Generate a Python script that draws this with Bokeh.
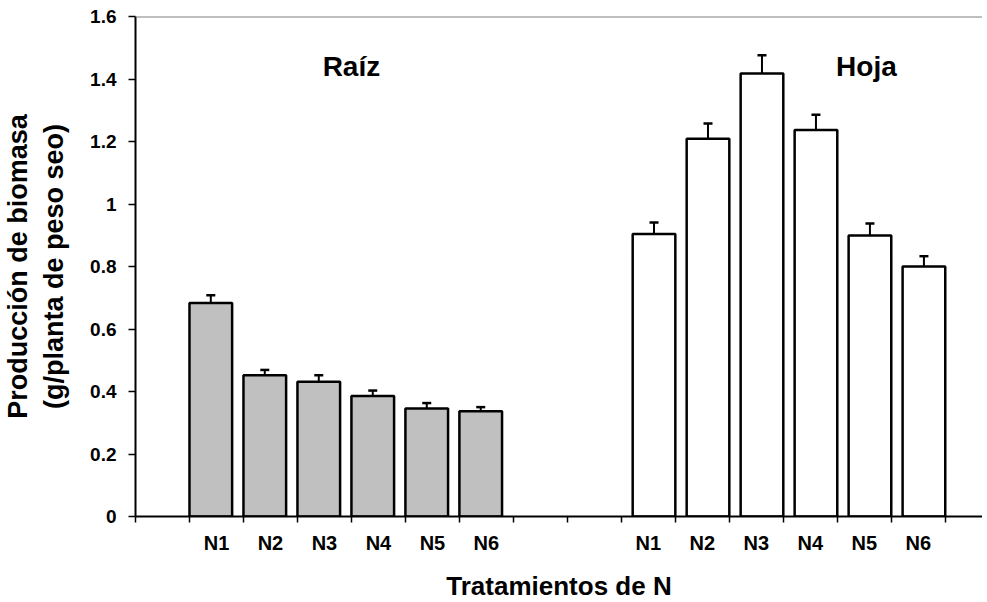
from bokeh.plotting import figure
from bokeh.models import (Range1d, FixedTicker, NumeralTickFormatter, ColumnDataSource,
                          Whisker, TeeHead, Span, Label)
from bokeh.embed import file_html
from bokeh.resources import INLINE

# ---- data ----
categories = ["N1", "N2", "N3", "N4", "N5", "N6"]
raiz = [0.683, 0.452, 0.431, 0.386, 0.346, 0.337]
raiz_err = [0.025, 0.017, 0.021, 0.017, 0.017, 0.013]
hoja = [0.904, 1.209, 1.418, 1.237, 0.899, 0.800]
hoja_err = [0.037, 0.049, 0.058, 0.049, 0.039, 0.033]
y_ticks = [0, 0.2, 0.4, 0.6, 0.8, 1.0, 1.2, 1.4, 1.6]
group_titles = ["Raíz", "Hoja"]
x_title = "Tratamientos de N"
y_title = "Producción de biomasa\n(g/planta de peso seo)"

FONT = "Liberation Sans"
raiz_start = 1   # first category slot of the Raíz group
hoja_start = 9   # first category slot of the Hoja group
n_slots = 15
bw = 0.79

p = figure(frame_width=847, frame_height=500, output_backend="svg", toolbar_location=None,
           x_range=Range1d(0, 15.69), y_range=Range1d(0, 1.6),
           min_border_left=132, min_border_right=0, min_border_top=16,
           min_border_bottom=0)
p.outline_line_color = None
p.xgrid.grid_line_color = None
p.ygrid.grid_line_color = None
p.background_fill_color = "white"
p.border_fill_color = "white"

# Raíz bars (left-aligned inside slot)
rx = [raiz_start + i + bw / 2 for i in range(len(categories))]
src_r = ColumnDataSource(dict(x=rx, top=raiz, up=[v + e for v, e in zip(raiz, raiz_err)]))
p.vbar(x="x", top="top", bottom=0, width=bw, source=src_r,
       fill_color="#C0C0C0", line_color="black", line_width=2.5)
p.add_layout(Whisker(base="x", lower="top", upper="up", source=src_r, dimension="height",
                     line_color="black", line_width=2,
                     upper_head=TeeHead(size=9, line_color="black", line_width=2.5),
                     lower_head=None))

# Hoja bars (right-aligned inside slot)
hx = [hoja_start + i + 1 - bw / 2 for i in range(len(categories))]
src_h = ColumnDataSource(dict(x=hx, top=hoja, up=[v + e for v, e in zip(hoja, hoja_err)]))
p.vbar(x="x", top="top", bottom=0, width=bw, source=src_h,
       fill_color="white", line_color="black", line_width=2.5)
p.add_layout(Whisker(base="x", lower="top", upper="up", source=src_h, dimension="height",
                     line_color="black", line_width=2,
                     upper_head=TeeHead(size=9, line_color="black", line_width=2.5),
                     lower_head=None))

# top border of plot area
p.add_layout(Span(location=1.6, dimension="width", line_color="#808080", line_width=2))

# group titles
p.add_layout(Label(x=4.0, y=1.44, text=group_titles[0], text_align="center",
                   text_baseline="alphabetic", text_font=FONT, text_font_style="bold",
                   text_font_size="28px", text_color="black"))
p.add_layout(Label(x=13.54, y=1.44, text=group_titles[1], text_align="center",
                   text_baseline="alphabetic", text_font=FONT, text_font_style="bold",
                   text_font_size="28px", text_color="black"))

# x axis
centers = [raiz_start + i + 0.5 for i in range(6)] + [hoja_start + i + 0.5 for i in range(6)]
labels = categories + categories
p.xaxis.ticker = FixedTicker(ticks=centers, minor_ticks=list(range(0, n_slots + 1)))
p.xaxis.major_label_overrides = {c: l for c, l in zip(centers, labels)}
p.xaxis.major_tick_in = 0
p.xaxis.major_tick_out = 0
p.xaxis.minor_tick_in = 0
p.xaxis.minor_tick_out = 6
p.xaxis.minor_tick_line_color = "black"
p.xaxis.minor_tick_line_width = 1.5
p.xaxis.axis_line_color = "black"
p.xaxis.axis_line_width = 2
p.xaxis.major_label_text_font = FONT
p.xaxis.major_label_text_font_style = "bold"
p.xaxis.major_label_text_font_size = "20px"
p.xaxis.major_label_text_color = "black"
p.xaxis.major_label_standoff = 9
p.xaxis.axis_label = x_title
p.xaxis.axis_label_text_font = FONT
p.xaxis.axis_label_text_font_style = "bold"
p.xaxis.axis_label_text_font_size = "26px"
p.xaxis.axis_label_text_color = "black"
p.xaxis.axis_label_standoff = 14

# y axis
p.yaxis.ticker = FixedTicker(ticks=y_ticks)
p.yaxis.formatter = NumeralTickFormatter(format="0.[0]")
p.yaxis.major_tick_in = 0
p.yaxis.major_tick_out = 7
p.yaxis.major_tick_line_color = "black"
p.yaxis.major_tick_line_width = 1.5
p.yaxis.minor_tick_line_color = None
p.yaxis.axis_line_color = "black"
p.yaxis.axis_line_width = 2
p.yaxis.major_label_text_font = FONT
p.yaxis.major_label_text_font_style = "bold"
p.yaxis.major_label_text_font_size = "19px"
p.yaxis.major_label_text_color = "black"
p.yaxis.major_label_standoff = 12
p.yaxis.axis_label = y_title
p.yaxis.axis_label_text_font = FONT
p.yaxis.axis_label_text_font_style = "bold"
p.yaxis.axis_label_text_font_size = "27px"
p.yaxis.axis_label_text_color = "black"
p.yaxis.axis_label_standoff = 18

open("out.html", "w").write(file_html(p, INLINE))
